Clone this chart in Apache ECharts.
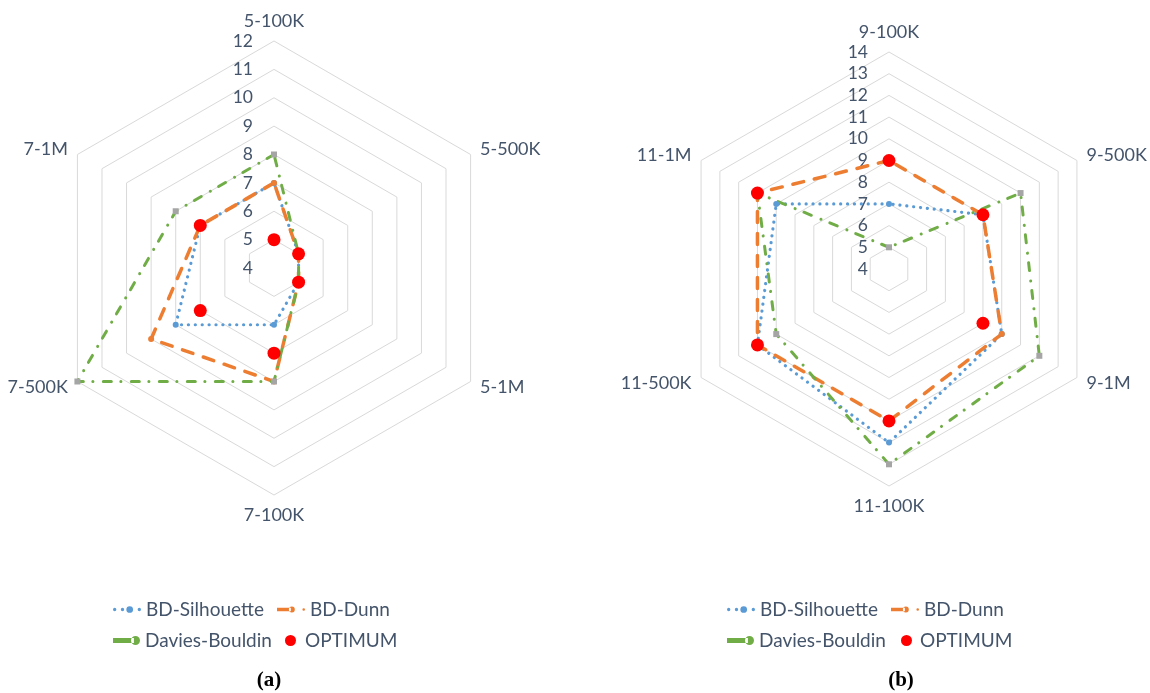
<!DOCTYPE html>
<html>
<head>
<meta charset="utf-8">
<script src="https://cdn.jsdelivr.net/npm/echarts@6/dist/echarts.min.js"></script>
<style>
  html, body { margin: 0; padding: 0; background: #ffffff; }
  #chart { width: 1150px; height: 693px; }
</style>
</head>
<body>
<div id="chart"></div>
<script>
// Series names shared by both panels
const seriesNames = ['BD-Silhouette', 'BD-Dunn', 'Davies-Bouldin', 'OPTIMUM'];

// Panel (a)
const catsA = ['5-100K', '5-500K', '5-1M', '7-100K', '7-500K', '7-1M'];
const silhouetteA = [7, 5, 5, 6, 8, 7];
const dunnA = [7, 5, 5, 8, 9, 7];
const daviesA = [8, 5, 5, 8, 12, 8];
const optimumA = [5, 5, 5, 7, 7, 7];
const ticksA = [4, 5, 6, 7, 8, 9, 10, 11, 12];

// Panel (b)
const catsB = ['9-100K', '9-500K', '9-1M', '11-100K', '11-500K', '11-1M'];
const silhouetteB = [7, 9, 10, 12, 11, 10];
const dunnB = [9, 9, 10, 11, 11, 11];
const daviesB = [5, 11, 12, 13, 10, 11];
const optimumB = [9, 9, 9, 11, 11, 11];
const ticksB = [4, 5, 6, 7, 8, 9, 10, 11, 12, 13, 14];

const TEXT = '#44546A';
const FONT = 'Lato';
const COLORS = { sil: '#5B9BD5', dunn: '#ED7D31', davies: '#70AD47', daviesMark: '#A5A5A5', opt: '#FF0000' };

// ECharts lays radar indicators out counter-clockwise; keep the first at the top
// and reverse the rest so the categories run clockwise.
const cw = arr => [arr[0]].concat(arr.slice(1).reverse());

function makeRadar(cats, ticks, center, radius) {
  const min = ticks[0], max = ticks[ticks.length - 1];
  const ordered = cw(cats);
  return {
    center: center,
    radius: radius,
    startAngle: 90,
    shape: 'polygon',
    splitNumber: ticks.length - 1,
    indicator: ordered.map((name, i) => {
      const ind = { name: name, min: min, max: max };
      if (i === 0) ind.axisLabel = { show: true };
      return ind;
    }),
    axisName: { color: TEXT, fontSize: 18, fontFamily: FONT },
    nameGap: 11,
    axisLine: { show: false },
    axisTick: { show: false },
    axisLabel: {
      show: false, color: TEXT, fontSize: 17.5, fontFamily: FONT,
      align: 'right', verticalAlign: 'middle', padding: [0, 21, 0, 0], margin: 0
    },
    splitLine: { lineStyle: { color: '#D9D9D9', width: 1 } },
    splitArea: { show: false }
  };
}

function makeSeries(radarIndex, sil, dunn, davies, opt) {
  return [
    {
      type: 'radar', radarIndex: radarIndex, name: seriesNames[0],
      symbol: 'circle', symbolSize: 6,
      itemStyle: { color: COLORS.sil },
      lineStyle: { color: COLORS.sil, width: 3.2, type: [0.1, 6.8], cap: 'round' },
      data: [{ value: cw(sil), name: seriesNames[0] }]
    },
    {
      type: 'radar', radarIndex: radarIndex, name: seriesNames[1],
      symbol: 'circle', symbolSize: 6,
      itemStyle: { color: COLORS.dunn },
      lineStyle: { color: COLORS.dunn, width: 3.5, type: [11, 11], cap: 'round' },
      data: [{ value: cw(dunn), name: seriesNames[1] }]
    },
    {
      type: 'radar', radarIndex: radarIndex, name: seriesNames[2],
      symbol: 'rect', symbolSize: 6,
      itemStyle: { color: COLORS.daviesMark },
      lineStyle: { color: COLORS.davies, width: 3, type: [8, 9.5, 0.1, 10.4], cap: 'round' },
      data: [{ value: cw(davies), name: seriesNames[2] }]
    },
    {
      type: 'radar', radarIndex: radarIndex, name: seriesNames[3],
      symbol: 'circle', symbolSize: 13,
      itemStyle: { color: COLORS.opt },
      lineStyle: { opacity: 0, width: 0 },
      data: [{ value: cw(opt), name: seriesNames[3] }]
    }
  ];
}

// Legend icon paths
const circ = (x, y, r) => `M${x - r},${y}a${r},${r} 0 1,0 ${2 * r},0a${r},${r} 0 1,0 ${-2 * r},0z`;
const iconSil = 'path://' + circ(1.5, 5, 1.4) + circ(8, 5, 1.4) + circ(14, 5, 2.8) + circ(22, 5, 1.4);
const iconDunn = 'path://M0,3.3h14v3.4h-14z' + circ(15, 5, 3) + circ(27, 5, 1.3);
const iconDavies = 'path://M0,3.5h13v3h-13z' + circ(14, 5, 2.8);

function legendItem(name, icon, left, top, w, h, color) {
  return {
    left: left, top: top, padding: 0,
    itemWidth: w, itemHeight: h, itemGap: 0,
    selectedMode: false,
    textStyle: { color: TEXT, fontSize: 19, fontFamily: FONT },
    data: [{ name: name, icon: icon, itemStyle: { color: color } }]
  };
}

const legends = [
  // panel (a)
  legendItem(seriesNames[0], iconSil, 113, 600, 28, 9, COLORS.sil),
  legendItem(seriesNames[1], iconDunn, 277, 600, 28, 9, COLORS.dunn),
  legendItem(seriesNames[2], iconDavies, 113, 631, 27, 9, COLORS.davies),
  legendItem(seriesNames[3], 'circle', 285, 631, 19, 11, COLORS.opt),
  // panel (b)
  legendItem(seriesNames[0], iconSil, 727, 600, 28, 9, COLORS.sil),
  legendItem(seriesNames[1], iconDunn, 891, 600, 28, 9, COLORS.dunn),
  legendItem(seriesNames[2], iconDavies, 727, 631, 27, 9, COLORS.davies),
  legendItem(seriesNames[3], 'circle', 901, 631, 17, 11, COLORS.opt)
];

const chart = echarts.init(document.getElementById('chart'), null, { renderer: 'canvas' });
chart.setOption({
  backgroundColor: '#ffffff',
  animation: false,
  radar: [
    makeRadar(catsA, ticksA, [274, 268], 227),
    makeRadar(catsB, ticksB, [889, 269], 217)
  ],
  legend: legends,
  series: [].concat(
    makeSeries(0, silhouetteA, dunnA, daviesA, optimumA),
    makeSeries(1, silhouetteB, dunnB, daviesB, optimumB)
  ),
  graphic: [
    { type: 'text', x: 269, y: 681, style: { text: '(a)', font: 'bold 21px "Liberation Serif"', fill: '#000', textAlign: 'center', textVerticalAlign: 'middle' } },
    { type: 'text', x: 901, y: 681, style: { text: '(b)', font: 'bold 21px "Liberation Serif"', fill: '#000', textAlign: 'center', textVerticalAlign: 'middle' } }
  ]
});
</script>
</body>
</html>
